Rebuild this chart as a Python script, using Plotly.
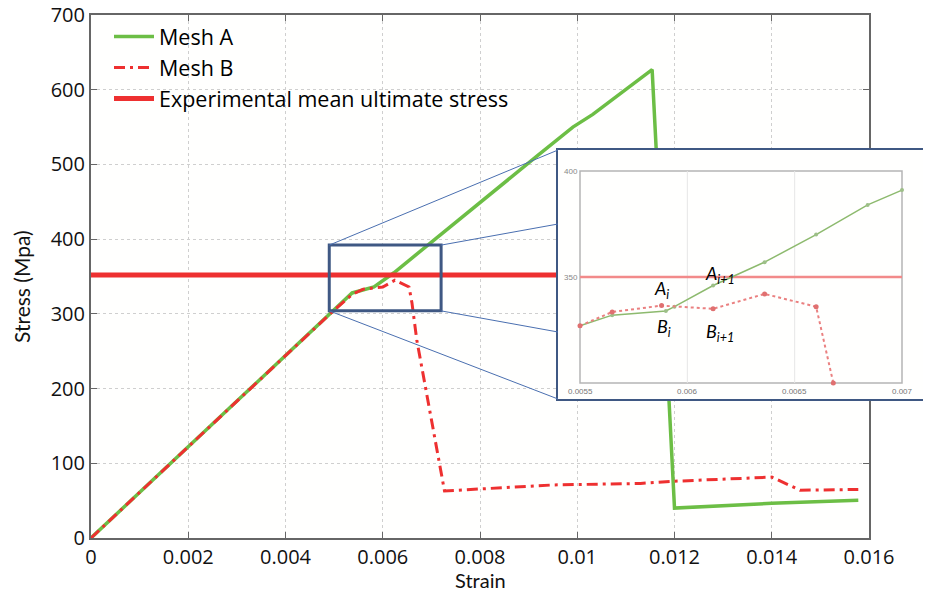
import plotly.graph_objects as go

# ---------------- data ----------------
mesh_a_strain = [0.0, 0.0050, 0.00537, 0.00582, 0.00623, 0.00917, 0.00991, 0.01032, 0.01154, 0.01200, 0.01400, 0.01578]
mesh_a_stress = [0, 305, 328, 336, 355, 511, 550, 567, 627, 40, 46.5, 50.5]

mesh_b_strain = [0.0, 0.0050, 0.00537, 0.0056, 0.0060, 0.00625, 0.00654, 0.0066, 0.0067, 0.00727, 0.0095, 0.0113, 0.0120, 0.0140, 0.01458, 0.01578]
mesh_b_stress = [0, 305, 326, 333, 336, 345, 336, 315, 265, 63, 71, 73, 76, 81.5, 64, 65]

exp_strain = [0.0, 0.016]
exp_stress = [352, 352]

x_tick_vals = [0, 0.002, 0.004, 0.006, 0.008, 0.01, 0.012, 0.014, 0.016]
x_tick_text = ["0", "0.002", "0.004", "0.006", "0.008", "0.01", "0.012", "0.014", "0.016"]
y_tick_vals = [0, 100, 200, 300, 400, 500, 600, 700]

# inset (zoomed picture) data
inset_a_strain = [0.0055, 0.00565, 0.0059, 0.00594, 0.00612, 0.00636, 0.0066, 0.00684, 0.0070]
inset_a_stress = [327, 332, 334, 336, 346, 357, 370, 384, 391]
inset_b_strain = [0.0055, 0.00565, 0.00588, 0.00612, 0.00636, 0.0066, 0.00668]
inset_b_stress = [327, 333.5, 336.5, 335, 342, 336, 300]
inset_exp_strain = [0.0055, 0.0070]
inset_exp_stress = [350, 350]
inset_x_ticks = [0.0055, 0.006, 0.0065, 0.007]
inset_x_text = ["0.0055", "0.006", "0.0065", "0.007"]
inset_y_ticks = [350, 400]

# ---------------- layout geometry ----------------
# design values are page pixels; the page body adds an 8px offset
OFF = 8
W, H = 923, 582
P_LEFT, P_RIGHT, P_TOP, P_BOTTOM = 91, 869, 15, 538      # main plot area (page px)
L = P_LEFT - OFF
T = P_TOP - OFF
B = H - (P_BOTTOM - OFF)
R = 0
pw, ph = W - L - R, H - T - B


def px_x(px):
    return (px - OFF - L) / pw


def px_y(py):
    return (H - B - (py - OFF)) / ph


main_xdom = [0, px_x(P_RIGHT)]

# inset box (page px)
ib_l, ib_r, ib_t, ib_b = 558, 931, 150, 399
# inner frame of the inset picture (page px)
if_l, if_r, if_t, if_b = 580, 902, 171, 383
ix0, ix1 = inset_x_ticks[0], inset_x_ticks[-1]
iy0, iy1 = 300, 400
sx = (ix1 - ix0) / (if_r - if_l)
sy = (iy1 - iy0) / (if_b - if_t)
x2_range = [ix0 - (if_l - ib_l) * sx, ix1 + (ib_r - if_r) * sx]
y2_range = [iy0 - (ib_b - if_b) * sy, iy1 + (if_t - ib_t) * sy]

GREEN = "#6CBE45"
RED = "#EE3030"
BLUE_DARK = "#3F5883"
BLUE_LINE = "#4A6FB0"

fig = go.Figure()

fig.add_trace(go.Scatter(x=mesh_a_strain, y=mesh_a_stress, mode="lines", name="Mesh A",
                         line=dict(color=GREEN, width=3.5), xaxis="x", yaxis="y"))
fig.add_trace(go.Scatter(x=mesh_b_strain, y=mesh_b_stress, mode="lines", name="Mesh B",
                         line=dict(color=RED, width=3, dash="11px,5px,3px,5px"), xaxis="x", yaxis="y"))
fig.add_trace(go.Scatter(x=exp_strain, y=exp_stress, mode="lines", name="Experimental mean ultimate stress",
                         line=dict(color=RED, width=5), xaxis="x", yaxis="y"))

# inset traces
fig.add_trace(go.Scatter(x=inset_exp_strain, y=inset_exp_stress, mode="lines", showlegend=False,
                         line=dict(color="#F28A8A", width=2.5), xaxis="x2", yaxis="y2"))
fig.add_trace(go.Scatter(x=inset_a_strain, y=inset_a_stress, mode="lines+markers", showlegend=False,
                         line=dict(color="#8DBA6E", width=1.5),
                         marker=dict(size=4, color="#9DBF88"), xaxis="x2", yaxis="y2"))
fig.add_trace(go.Scatter(x=inset_b_strain, y=inset_b_stress, mode="lines+markers", showlegend=False,
                         line=dict(color="#EA8080", width=2, dash="dot"),
                         marker=dict(size=5, color="#E07070"), xaxis="x2", yaxis="y2"))

shapes = []
# rectangle on the main plot
rect_x = [0.0049, 0.0072]
rect_y = [304, 392]
shapes.append(dict(type="rect", xref="x", yref="y", x0=rect_x[0], x1=rect_x[1], y0=rect_y[0], y1=rect_y[1],
                   line=dict(color=BLUE_DARK, width=3), layer="above"))


def dx(v):
    return main_xdom[0] + v / 0.016 * (main_xdom[1] - main_xdom[0])


def dy(v):
    return v / 700


connectors = [
    ((rect_x[0], rect_y[1]), (ib_l, ib_t)),
    ((rect_x[1], rect_y[1]), (ib_l, 224)),
    ((rect_x[1], rect_y[0]), (ib_l, 332)),
    ((rect_x[0], rect_y[0]), (ib_l, ib_b)),
]
for (cx, cy), (px, py) in connectors:
    shapes.append(dict(type="line", xref="paper", yref="paper", x0=dx(cx), y0=dy(cy), x1=px_x(px), y1=px_y(py),
                       line=dict(color=BLUE_LINE, width=1), layer="above"))

# inset inner frame & grid
shapes.append(dict(type="rect", xref="x2", yref="y2", x0=ix0, x1=ix1, y0=iy0, y1=iy1,
                   line=dict(color="#B5B5B5", width=1.5), layer="below"))
for v in inset_x_ticks[1:-1]:
    shapes.append(dict(type="line", xref="x2", yref="y2", x0=v, x1=v, y0=iy0, y1=iy1,
                       line=dict(color="#E6E6E6", width=1), layer="below"))

annotations = []
for v, t in zip(inset_x_ticks, inset_x_text):
    annotations.append(dict(x=v, y=iy0, xref="x2", yref="y2", text=t, showarrow=False, yanchor="top",
                            yshift=-2, font=dict(size=8, color="#777777", family="Liberation Sans")))
for v in inset_y_ticks:
    annotations.append(dict(x=ix0, y=v, xref="x2", yref="y2", text=str(v), showarrow=False, xanchor="right",
                            font=dict(size=8, color="#888888", family="Liberation Sans")))

labels = [("<i>A<sub>i</sub></i>", 0.00588, 344), ("<i>B<sub>i</sub></i>", 0.00589, 326),
          ("<i>A<sub>i+1</sub></i>", 0.00615, 351), ("<i>B<sub>i+1</sub></i>", 0.00615, 324)]
for t, x, y in labels:
    annotations.append(dict(x=x, y=y, xref="x2", yref="y2", text=t, showarrow=False,
                            font=dict(size=18, color="black", family="Lato")))

# axis titles
annotations.append(dict(x=px_x(480), y=px_y(580), xref="paper", yref="paper", text="Strain", showarrow=False,
                        xanchor="center", yanchor="middle", font=dict(family="Lato", size=20, color="#111")))
annotations.append(dict(x=px_x(21), y=px_y(287), xref="paper", yref="paper", text="Stress (Mpa)",
                        showarrow=False, textangle=-90, xanchor="center", yanchor="middle",
                        font=dict(family="Lato", size=21, color="#111")))

fig.update_layout(
    width=W, height=H,
    margin=dict(l=L, r=R, t=T, b=B, pad=0, autoexpand=False),
    paper_bgcolor="#ffffff",
    plot_bgcolor="#fffffe",
    font=dict(family="Open Sans", color="#111111"),
    showlegend=True,
    legend=dict(x=px_x(109), y=px_y(16), xanchor="left", yanchor="top",
                bgcolor="rgba(0,0,0,0)", font=dict(family="Open Sans", size=21.5, color="black"),
                tracegroupgap=0, itemwidth=40),
    xaxis=dict(domain=main_xdom, range=[0, 0.016], tickvals=x_tick_vals, ticktext=x_tick_text,
               ticks="inside", ticklen=6, tickcolor="#666", showline=True, linecolor="#666", linewidth=2,
               mirror="ticks", showgrid=True, gridcolor="#CFCFCF", griddash="dot", gridwidth=1,
               zeroline=False, tickfont=dict(size=20, family="Open Sans", color="#111"),
               ticklabeloverflow="allow", automargin=False, anchor="y"),
    yaxis=dict(domain=[0, 1], range=[0, 700], tickvals=y_tick_vals,
               ticks="inside", ticklen=6, tickcolor="#666", showline=True, linecolor="#666", linewidth=2,
               mirror="ticks", showgrid=True, gridcolor="#CFCFCF", griddash="dot", gridwidth=1,
               zeroline=False, tickfont=dict(size=20, family="Open Sans", color="#111"),
               ticklabeloverflow="allow", automargin=False, anchor="x"),
    xaxis2=dict(domain=[px_x(ib_l), min(1.0, px_x(ib_r))], range=x2_range, showticklabels=False, ticks="",
                showgrid=False, zeroline=False, showline=True, linecolor=BLUE_DARK, linewidth=1.5,
                mirror=True, anchor="y2", automargin=False),
    yaxis2=dict(domain=[px_y(ib_b), px_y(ib_t)], range=y2_range, showticklabels=False, ticks="",
                showgrid=False, zeroline=False, showline=True, linecolor=BLUE_DARK, linewidth=1.5,
                mirror=True, anchor="x2", automargin=False),
    shapes=shapes,
    annotations=annotations,
)

fig.write_html("out.html")
